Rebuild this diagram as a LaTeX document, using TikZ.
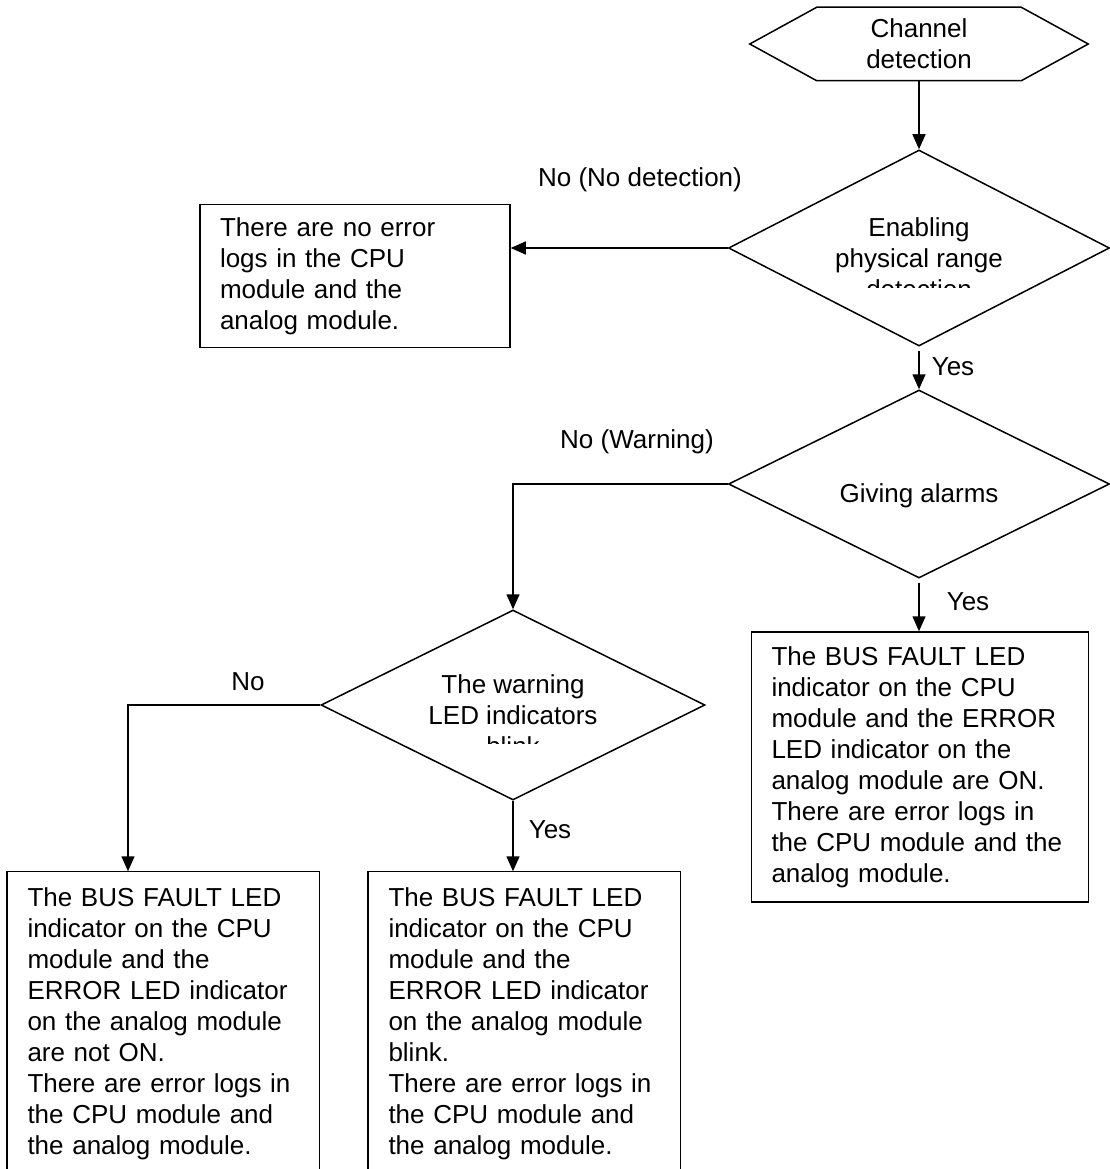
\documentclass[tikz,border=0pt]{standalone}
\usepackage{fontspec}
\setmainfont{Liberation Sans}
\usetikzlibrary{shapes.geometric, arrows.meta}

\tikzset{
  txt/.style={font=\fontsize{26}{31}\selectfont, inner sep=0pt},
  decision/.style={diamond, draw, aspect=2, inner sep=0pt},
  flowbox/.style={txt, draw, align=left, inner xsep=20pt, inner ysep=0pt},
  openbox/.style={txt, align=left, inner xsep=20pt, inner ysep=0pt},
  arr/.style={-{Triangle[length=15pt,width=13pt]}},
}

\begin{document}
\begin{tikzpicture}[x=1pt, y=-1pt, line width=1.5pt]
  \useasboundingbox (0,0) rectangle (1110,1169);
  % Start node (hexagon)
  \node[txt, align=center, minimum width=337pt, minimum height=72pt] (chan) at (919,44) {Channel\\detection};
  \draw (chan.west) -- ([xshift=67pt]chan.north west) -- ([xshift=-67pt]chan.north east) -- (chan.east)
    -- ([xshift=-67pt]chan.south east) -- ([xshift=67pt]chan.south west) -- cycle;

  % Decisions
  \node[decision, minimum width=381pt, minimum height=196pt] (d1) at (919,248) {};
  \node[decision, minimum width=381pt, minimum height=188pt] (d2) at (919,484) {};
  \node[decision, minimum width=384pt, minimum height=190pt] (d3) at (513,705) {};
  \node[txt] (d2text) at (919,496) {Giving alarms};
  \begin{scope}
    \clip (728,150) rectangle (1109,287);
    \node[txt, align=center] (d1text) at (919,258) {Enabling\\physical range\\detection};
  \end{scope}
  \begin{scope}
    \clip (321,610) rectangle (705,743);
    \node[txt, align=center] (d3text) at (513,715) {The warning\\LED indicators\\blink};
  \end{scope}

  % Result boxes
  \node[flowbox, text width=270pt, minimum height=143pt] (nolog) at (355,276)
    {There are no error\\logs in the CPU\\module and the\\analog module.};
  \node[flowbox, text width=297pt, minimum height=270pt] (alarm) at (920,767)
    {The BUS FAULT LED\\indicator on the CPU\\module and the ERROR\\LED indicator on the\\analog module are ON.\\There are error logs in\\the CPU module and the\\analog module.};
  \node[openbox, text width=271pt, minimum height=304pt] (noton) at (163,1024)
    {The BUS FAULT LED\\indicator on the CPU\\module and the\\ERROR LED indicator\\on the analog module\\are not ON.\\There are error logs in\\the CPU module and\\the analog module.};
  \node[openbox, text width=271pt, minimum height=304pt] (blink) at (524,1024)
    {The BUS FAULT LED\\indicator on the CPU\\module and the\\ERROR LED indicator\\on the analog module\\blink.\\There are error logs in\\the CPU module and\\the analog module.};
  % bottom boxes run off the page
  \coordinate (foot) at (0,1169);
  \draw (noton.north west |- foot) -- (noton.north west) -- (noton.north east) -- (noton.north east |- foot);
  \draw (blink.north west |- foot) -- (blink.north west) -- (blink.north east) -- (blink.north east |- foot);

  % Labels
  \node[txt] (lnodet) at (640,180) {No (No detection)};
  \node[txt] (lyes1) at (953,367) {Yes};
  \node[txt] (lwarn) at (637,442) {No (Warning)};
  \node[txt] (lyes2) at (968,602) {Yes};
  \node[txt] (lno) at (248,682) {No};
  \node[txt] (lyes3) at (550,830) {Yes};

  % Connectors
  \draw[arr] (chan.south) -- (d1.north);
  \draw[arr] (d1.west) -- (d1.west -| nolog.east);
  \draw[arr] ([yshift=-4pt]d1.south) -- (d2.north);
  \draw[arr] (d2.west) -| (d3.north);
  \draw[arr] ([yshift=-4pt]d2.south) -- (d2.south |- alarm.north);
  \draw[arr] (d3.west) -| ([xshift=-35pt]noton.north);
  \draw[arr] (d3.south) -- (d3.south |- blink.north);
\end{tikzpicture}
\end{document}
